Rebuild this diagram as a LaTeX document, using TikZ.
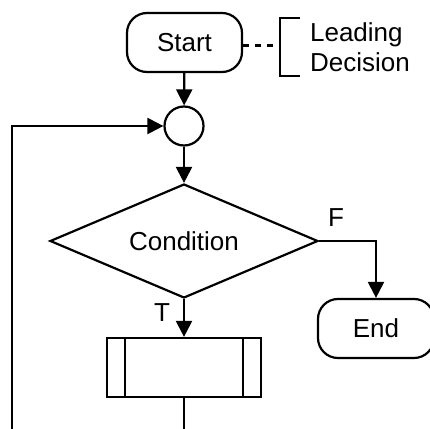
\documentclass[tikz,border=0pt]{standalone}
\usepackage{fontspec}
\setmainfont{Liberation Sans}
\usetikzlibrary{arrows.meta,shapes.geometric}
\begin{document}
\begin{tikzpicture}[x=0.5pt,y=-0.5pt,
  line width=1.1pt,
  font=\fontsize{13}{15}\selectfont,
  arr/.style={-{Triangle[length=8pt,width=8pt]}},
  term/.style={draw,rounded corners=10pt,minimum height=29.5pt,inner sep=0pt},
  conn/.style={draw,circle,minimum size=19.5pt,inner sep=0pt},
  cond/.style={draw,diamond,aspect=2.35,minimum width=134pt,minimum height=57pt,inner sep=0pt},
  proc/.style={draw,minimum width=77pt,minimum height=29.5pt,inner sep=0pt},
  lbl/.style={inner sep=0pt}]
\useasboundingbox (0,0) rectangle (430,429);
\node[term,minimum width=57.5pt] (start) at (184.5,42.5) {Start};
\node[conn] (c) at (184,126) {};
\node[cond] (d) at (184,241) {Condition};
\node[term,minimum width=58pt] (end) at (376,328.5) {End};
\node[proc] (p) at (184,367.5) {};
\draw ([xshift=9.5pt]p.north west) -- ([xshift=9.5pt]p.south west);
\draw ([xshift=-9.5pt]p.north east) -- ([xshift=-9.5pt]p.south east);
% annotation
\coordinate (sa) at ([yshift=-1.5pt]start.east);
\coordinate (bx) at (280,0);
\coordinate (bm) at (sa -| bx);
\draw[dash pattern=on 3pt off 3pt] (sa) -- (bm);
\draw (300,18) -- (280,18) -- (280,76) -- (300,76);
\node[lbl,anchor=west,align=left] (note) at (309,47) {Leading\\Decision};
% connectors
\draw[arr] (start) -- (c);
\draw[arr] (c) -- (d);
\draw[arr] (d.east) -| (end.north);
\node[lbl] (F) at (336,218) {F};
\draw[arr] (d.south) -- (p.north);
\node[lbl] (T) at (162,313) {T};
\coordinate (pb) at (184,432);
\draw (p.south) -- (pb);
\coordinate (lb) at (12,432);
\coordinate (lt) at (12,126);
\draw[arr] (lb) -- (lt) -- (c.west);
\end{tikzpicture}
\end{document}
